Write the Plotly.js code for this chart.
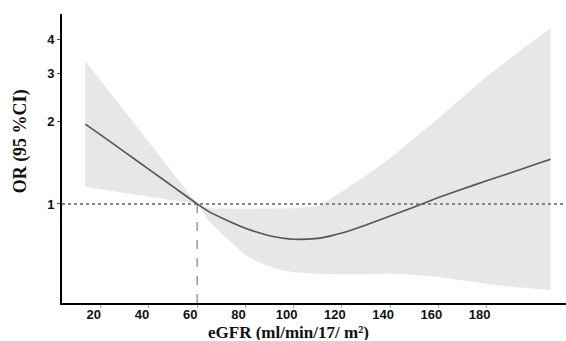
<!DOCTYPE html>
<html>
<head>
<meta charset="utf-8">
<script src="https://cdn.plot.ly/plotly-3.0.1.min.js"></script>
<style>html,body{margin:0;padding:0;background:#fff;}#chart{width:566px;height:341px;}</style>
</head>
<body>
<div id="chart"></div>
<script>
// eGFR values (x)
const egfr = [13.6, 20, 30, 40, 50, 60, 65, 70, 75, 80, 85, 90, 95, 100, 110, 115, 120, 130, 140, 150, 160, 170, 180, 190, 200, 206.5];
// Odds ratio (central estimate)
const orMain = [1.96, 1.79, 1.548, 1.339, 1.157, 1.0, 0.935, 0.89, 0.85, 0.815, 0.787, 0.765, 0.75, 0.742, 0.748, 0.762, 0.782, 0.838, 0.903, 0.975, 1.055, 1.135, 1.215, 1.30, 1.395, 1.458];
// 95% CI upper
const ciUpper = [3.34, 2.84, 2.185, 1.684, 1.298, 1.0, 0.965, 0.96, 0.96, 0.96, 0.96, 0.96, 0.962, 0.965, 0.985, 1.04, 1.11, 1.27, 1.47, 1.74, 2.06, 2.46, 2.93, 3.43, 3.98, 4.4];
// 95% CI lower
const ciLower = [1.157, 1.135, 1.097, 1.065, 1.034, 1.0, 0.86, 0.78, 0.71, 0.65, 0.615, 0.59, 0.572, 0.562, 0.555, 0.552, 0.55, 0.552, 0.556, 0.55, 0.54, 0.525, 0.51, 0.497, 0.488, 0.484];
// Reference point
const refX = 60;
const refOR = 1;
// Ticks
const xTicks = [20, 40, 60, 80, 100, 120, 140, 160, 180];
const yTicks = [1, 2, 3, 4];

const xRange = [3.96, 212.9];
const yLogRange = [-0.363, 0.696];

const bandX = egfr.concat(egfr.slice().reverse());
const bandY = ciUpper.concat(ciLower.slice().reverse());

const traces = [
  {x: bandX, y: bandY, type: 'scatter', mode: 'lines', fill: 'toself',
   fillcolor: '#e7e7e7', line: {width: 0, color: 'rgba(0,0,0,0)'}, hoverinfo: 'skip'},
  {x: xRange, y: [refOR, refOR], type: 'scatter', mode: 'lines',
   line: {color: '#888888', width: 2, dash: 'dot'}, cliponaxis: false},
  {x: [refX, refX], y: [Math.pow(10, yLogRange[0]), refOR], type: 'scatter', mode: 'lines',
   line: {color: '#999999', width: 1.5, dash: 'dash'}},
  {x: egfr, y: orMain, type: 'scatter', mode: 'lines', line: {color: '#555555', width: 1.6, shape: 'spline', smoothing: 0.6}}
];

const layout = {
  width: 566, height: 341,
  margin: {l: 62, r: 0, t: 14, b: 38, pad: 0},
  paper_bgcolor: '#ffffff', plot_bgcolor: '#ffffff',
  showlegend: false,
  xaxis: {
    range: xRange, tickvals: xTicks, ticktext: xTicks.map(String),
    showline: true, linecolor: '#000', linewidth: 2, mirror: false,
    ticks: 'outside', ticklen: 3, tickcolor: '#aaaaaa', tickwidth: 1,
    ticklabelshift: -7, ticklabelstandoff: -5,
    showgrid: false, zeroline: false,
    tickfont: {family: 'Liberation Sans, Arial, sans-serif', size: 13, color: '#111', weight: 'bold'}
  },
  yaxis: {
    type: 'log', range: yLogRange, tickvals: yTicks, ticktext: yTicks.map(String),
    showline: true, linecolor: '#000', linewidth: 2,
    ticks: 'outside', ticklen: 3, tickcolor: '#555', tickwidth: 1,
    showgrid: false, zeroline: false,
    tickfont: {family: 'Liberation Sans, Arial, sans-serif', size: 13, color: '#111', weight: 'bold'}
  },
  annotations: [
    {text: 'OR (95 %CI)', xref: 'paper', yref: 'paper', x: -0.0815, y: 0.559,
     xanchor: 'center', yanchor: 'middle', textangle: -90, showarrow: false,
     font: {family: 'Liberation Serif, Times New Roman, serif', size: 18, color: '#111', weight: 'bold'}},
    {text: 'eGFR (ml/min/17/ m²)', xref: 'paper', yref: 'paper', x: 0.45, y: -0.1,
     xanchor: 'center', yanchor: 'middle', showarrow: false, height: 16, valign: 'middle', borderpad: 0,
     font: {family: 'Liberation Serif, Times New Roman, serif', size: 17, color: '#111', weight: 'bold'}}
  ]
};

Plotly.newPlot('chart', traces, layout, {displayModeBar: false, staticPlot: true});
</script>
</body>
</html>
